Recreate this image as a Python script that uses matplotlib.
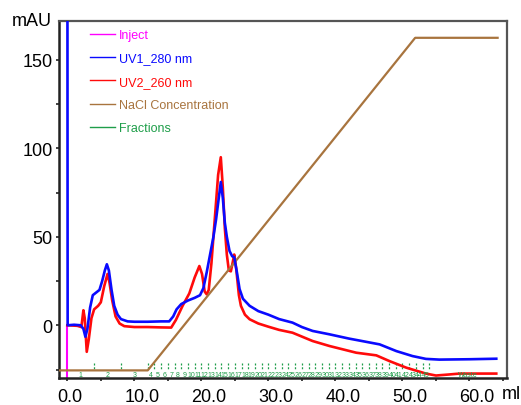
import numpy as np
import matplotlib
matplotlib.use("Agg")
import matplotlib.pyplot as plt
import matplotlib.transforms as mtransforms
from matplotlib.ticker import MultipleLocator

plt.rcParams["font.family"] = ["Liberation Sans", "DejaVu Sans"]

# UV1 280 nm (ml, mAU)
uv1_ml = [0.0, 0.05, 1.0, 2.0, 2.4, 2.7, 3.0, 3.4, 3.8, 4.3, 4.8, 5.2, 5.6, 5.9,
          6.2, 6.6, 7.0, 7.5, 8.0, 9.0, 10.0, 12.0, 14.0, 15.2, 15.8, 16.3, 17.0,
          18.0, 19.0, 19.8, 20.3, 20.8, 21.3, 21.8, 22.2, 22.6, 22.9, 23.2, 23.5,
          23.8, 24.2, 24.6, 24.9, 25.3, 25.7, 26.2, 27.2, 28.5, 30.0, 31.6, 33.6,
          35.0, 36.6, 39.1, 42.0, 44.1, 46.6, 49.1, 51.5, 53.5, 55.5, 60.0, 64.0]
uv1_mau = [300, 0.0, 0.3, 0.0, -2.0, -6.5, -2.0, 10.0, 17.0, 18.5, 20.0, 25.0, 31.0, 34.5,
           31.0, 20.0, 11.0, 6.0, 3.5, 2.2, 2.0, 2.0, 2.2, 2.2, 5.0, 9.0, 12.0,
           14.0, 15.5, 17.0, 21.0, 30.0, 40.0, 50.0, 60.0, 72.0, 81.0, 72.0, 58.0,
           50.0, 42.0, 39.0, 38.5, 30.0, 20.5, 15.0, 11.0, 8.0, 6.0, 3.5, 1.5,
           -1.0, -3.2, -5.1, -7.5, -9.0, -10.8, -14.6, -17.4, -19.0, -19.4, -19.2, -18.9]

# UV2 260 nm (ml, mAU)
uv2_ml = [0.0, 1.5, 2.1, 2.4, 2.6, 2.9, 3.2, 3.6, 4.0, 4.6, 5.0, 5.5, 6.0, 6.3, 6.7,
          7.2, 7.8, 8.5, 10.0, 12.0, 14.0, 15.5, 16.2, 17.2, 18.2, 19.0, 19.7, 20.1,
          20.5, 20.8, 21.1, 21.5, 22.0, 22.5, 22.9, 23.2, 23.5, 23.8, 24.1, 24.4,
          24.7, 24.9, 25.2, 25.6, 25.9, 26.5, 27.2, 28.5, 30.0, 31.6, 33.6, 36.6,
          39.1, 43.1, 46.1, 48.1, 50.6, 53.5, 55.0, 57.0, 58.5, 64.0]
uv2_mau = [0.0, -0.3, -1.0, 8.5, 4.0, -15.0, -8.0, 4.0, 9.0, 11.0, 13.0, 22.0, 29.0, 24.0, 14.0,
           5.0, 1.0, -0.5, -1.0, -1.0, -1.2, -1.3, 3.0, 11.0, 18.0, 27.0, 33.5, 29.0,
           19.0, 17.5, 20.0, 35.0, 60.0, 85.0, 95.0, 78.0, 55.0, 40.0, 31.0, 30.5,
           36.0, 40.0, 32.0, 17.0, 11.0, 6.0, 3.4, 1.0, -0.8, -2.6, -4.2, -8.9,
           -11.7, -15.5, -17.0, -20.3, -24.0, -27.3, -28.4, -27.8, -27.3, -27.3]

# NaCl gradient, drawn on the mAU scale
nacl_ml = [-1.5, 12.0, 51.9, 64.2]
nacl_mau = [-25.5, -25.5, 162.5, 162.5]

# fractions
frac_edges = [0, 4, 8] + list(range(12, 55))
frac_labels = [str(i) for i in range(1, 46)]
waste_pos = 59.7

c_inj = "#ff00ff"
c_uv1 = "#0a0aff"
c_uv2 = "#ff0a0a"
c_nacl = "#a8743e"
c_frac = "#1f9e4a"

fig = plt.figure(figsize=(5.21, 4.06), dpi=100)
ax = fig.add_axes([59 / 521, 27 / 406, 448 / 521, 357 / 406])

ax.vlines(0, -40, 0, color=c_inj, lw=1.5, label="Inject", zorder=2)
ax.plot(uv1_ml, uv1_mau, color=c_uv1, lw=1.9, label="UV1_280 nm", zorder=4)
ax.plot(uv2_ml, uv2_mau, color=c_uv2, lw=1.9, label="UV2_260 nm", zorder=3)
ax.plot(nacl_ml, nacl_mau, color=c_nacl, lw=1.6, label="NaCl Concentration", zorder=3)
ax.vlines(frac_edges[1:], -21.5, -25.0, color=c_frac, lw=0.9,
          linestyles=(0, (1.6, 1.4)), label="Fractions", zorder=2)
for i, lab in enumerate(frac_labels):
    mid = (frac_edges[i] + frac_edges[i + 1]) / 2
    ax.text(mid, -27.8, lab, color=c_frac, fontsize=5.0, ha="center", va="center")
ax.text(waste_pos, -27.8, "Waste", color=c_frac, fontsize=5.0, ha="center", va="center")

ax.set_xlim(-1.24, 65.6)
ax.set_ylim(-29.8, 172)

ax.xaxis.set_major_locator(MultipleLocator(10))
ax.xaxis.set_minor_locator(MultipleLocator(5))
ax.yaxis.set_major_locator(MultipleLocator(50))
ax.yaxis.set_minor_locator(MultipleLocator(25))
ax.set_xticks(np.arange(0, 61, 10))
ax.set_xticklabels([f"{v:.1f}" for v in np.arange(0, 61, 10)])
ax.set_yticks([0, 50, 100, 150])
ax.tick_params(which="both", direction="out", length=2.5, width=1.2, color="#222222")
ax.tick_params(axis="x", labelsize=13, pad=5)
ax.tick_params(axis="y", labelsize=13, pad=2)

offset = mtransforms.ScaledTranslation(-10 / 100, 0, fig.dpi_scale_trans)
for lab in ax.get_xticklabels():
    lab.set_horizontalalignment("left")
    lab.set_transform(lab.get_transform() + offset)

for side in ["left", "bottom"]:
    ax.spines[side].set_linewidth(1.8)
    ax.spines[side].set_color("#222222")
for side in ["top", "right"]:
    ax.spines[side].set_linewidth(1.6)
    ax.spines[side].set_color("#555555")

leg = ax.legend(loc="upper left", bbox_to_anchor=(0.069, 0.977), frameon=False,
                fontsize=9, labelcolor="linecolor", handlelength=2.0,
                handletextpad=0.3, labelspacing=0.9, borderpad=0, borderaxespad=0)
for h in leg.legend_handles:
    h.set_linewidth(1.0)
    h.set_linestyle("-")
leg.get_texts()[4].set_color(c_frac)
leg.get_texts()[0].set_color(c_inj)

fig.text(12 / 521, 1 - 26 / 406, "mAU", fontsize=13, va="baseline", ha="left")
fig.text(502 / 521, 1 - 399 / 406, "ml", fontsize=13, va="baseline", ha="left")

fig.savefig("out.png", dpi=100)
